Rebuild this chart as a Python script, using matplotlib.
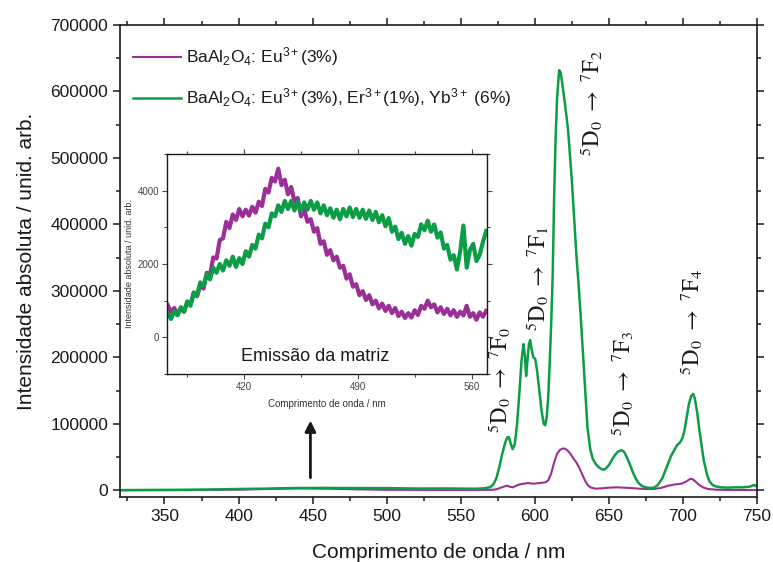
import numpy as np
import matplotlib
matplotlib.use("Agg")
import matplotlib.pyplot as plt
from matplotlib.ticker import MultipleLocator

plt.rcParams["font.family"] = ["Liberation Sans", "DejaVu Sans"]
plt.rcParams["mathtext.fontset"] = "custom"
plt.rcParams["mathtext.rm"] = "Liberation Sans"
plt.rcParams["mathtext.it"] = "Liberation Sans:italic"
plt.rcParams["mathtext.bf"] = "Liberation Sans:bold"

PURPLE = "#9a3097"
GREEN = "#0b9e46"
INK = "#1a1a1a"

# ---- Emission spectra (full range) ----
wl_eu = [320, 360, 400, 420, 440, 460, 480, 500, 540, 570, 574, 577, 579, 581, 583,
         585, 587, 589, 591, 593, 595, 597, 599, 601, 603, 605, 607, 609, 611, 613,
         615, 617, 619, 620.5, 622, 624, 626, 628, 630, 632, 634, 636, 638, 641, 645,
         650, 655, 660, 665, 670, 675, 680, 685, 690, 695, 699, 702, 704, 705.5, 707,
         709, 711, 714, 717, 722, 730, 750]
int_eu = [200, 300, 1000, 2000, 3000, 2500, 1500, 800, 600, 700, 1500, 4000, 5500, 7000, 5500,
          4500, 6500, 8500, 9500, 10000, 11000, 10500, 10000, 10500, 11000, 11500, 12000, 15000, 25000, 42000,
          55000, 61000, 63000, 62500, 60000, 55000, 48000, 42000, 34000, 24000, 14000, 7000, 4000, 2500, 3000,
          4000, 4500, 4000, 3500, 2500, 2000, 2000, 3500, 7000, 9000, 10000, 13000, 16000, 17500, 16000,
          12000, 8000, 4000, 2000, 1000, 500, 500]

wl_eu_er_yb = [320, 340, 360, 380, 400, 420, 440, 460, 480, 500, 520, 540, 560, 566, 570,
               572, 574, 576, 578, 580, 581.5, 582.5, 584, 585, 586.5, 588, 589.5, 591, 592.3, 593.2,
               594.1, 595, 596, 596.8, 597.8, 599, 600.2, 601.5, 603, 604.5, 606, 607, 608, 609, 610,
               611, 612, 613, 614, 615, 616.4, 617.5, 618.5, 619.5, 620.5, 621.5, 622.5, 623.5, 625, 626.5,
               628, 629.5, 631, 632.5, 634, 635.5, 637.4, 639, 641, 643, 645, 646.6, 648, 650, 652,
               654, 656, 658, 659, 660.5, 662, 664, 666, 668, 670, 672, 674, 676, 678,
               680.5, 683, 686, 689, 692, 694, 696, 698, 699.5, 701, 702.5, 704, 705.5, 706.9, 708,
               709.5, 711, 712.5, 714, 716.4, 718, 720, 722, 725.7, 730, 735, 740, 745, 748, 750]
int_eu_er_yb = [300, 600, 800, 1200, 2000, 2600, 3500, 3600, 3400, 3300, 2700, 2800, 2400, 3000, 5000,
                9000, 18000, 35000, 55000, 72000, 80000, 80000, 68000, 62000, 70000, 100000, 145000, 195000, 220000, 205000,
                172000, 195000, 220000, 226000, 212000, 200000, 198000, 180000, 150000, 120000, 100000, 98000, 110000, 140000, 190000,
                250000, 320000, 440000, 530000, 590000, 632000, 628000, 612000, 595000, 578000, 560000, 540000, 510000, 465000, 410000,
                355000, 310000, 260000, 205000, 150000, 95000, 62000, 48000, 40000, 35000, 32000, 31000, 33000, 38000, 46000,
                53000, 58000, 60000, 60000, 57000, 50000, 40000, 28000, 18000, 11000, 7000, 5000, 4000, 3500,
                4000, 8000, 18000, 35000, 52000, 60000, 68000, 72000, 78000, 90000, 110000, 130000, 142000, 145000, 138000,
                118000, 92000, 68000, 45000, 22000, 13000, 8000, 6000, 4500, 4000, 4500, 4500, 5500, 8000, 6000]

# ---- Host-matrix emission (inset) ----
wl_matrix = list(range(373, 570, 2))
mat_eu = [880, 690, 800, 620, 780, 700, 950, 900, 1220, 1120, 1420, 1330, 1760, 1700, 2180, 2150,
          2650, 2700, 3150, 2980, 3350, 3200, 3500, 3300, 3480, 3320, 3560, 3400, 3700, 3580, 4050,
          3950, 4350, 4250, 4600, 4150, 4300, 3900, 4100, 3700, 3800, 3300, 3480, 3150, 3220, 2880,
          2980, 2550, 2620, 2250, 2380, 2100, 2200, 1900, 1950, 1600, 1720, 1380, 1450, 1150, 1260,
          1020, 1150, 900, 1000, 790, 920, 720, 860, 660, 800, 580, 700, 530, 660, 540, 740, 610, 860,
          780, 1000, 820, 900, 680, 820, 640, 780, 600, 740, 560, 700, 600, 860, 560, 660, 480, 680,
          560, 720]
mat_eu_er_yb = [640, 500, 720, 600, 820, 700, 980, 860, 1220, 1150, 1500, 1400, 1720, 1580, 1900,
                1760, 2000, 1820, 2100, 1950, 2200, 1920, 2160, 2000, 2350, 2200, 2520, 2420, 2800, 2700,
                3100, 3000, 3380, 3300, 3600, 3420, 3720, 3500, 3720, 3460, 3700, 3450, 3680, 3480, 3720,
                3480, 3680, 3380, 3600, 3330, 3520, 3260, 3480, 3220, 3500, 3300, 3540, 3280, 3500, 3260,
                3480, 3230, 3460, 3200, 3420, 3140, 3330, 3030, 3250, 2880, 3020, 2680, 2850, 2550, 2760,
                2500, 2820, 2740, 3080, 2920, 3180, 2880, 3080, 2720, 2860, 2420, 2520, 2120, 2240, 1850,
                2350, 3050, 1900, 2380, 2550, 2080, 2250, 2600, 2900]

labels = [r"BaAl$_2$O$_4$: Eu$^{3+}$(3%)",
          r"BaAl$_2$O$_4$: Eu$^{3+}$(3%), Er$^{3+}$(1%), Yb$^{3+}$ (6%)"]

# Eu3+ transitions: (final level, x in nm, y in counts)
transitions = [("0", 576.5, 166000), ("1", 601.5, 318000), ("2", 638.5, 582000),
               ("3", 659.0, 161000), ("4", 706.0, 253000)]

fig = plt.figure(figsize=(7.73, 5.62), dpi=100)
ax = fig.add_axes([0.1553, 0.1157, 0.8241, 0.8398])

ax.plot(wl_eu, int_eu, color=PURPLE, lw=1.5, label=labels[0])
ax.plot(wl_eu_er_yb, int_eu_er_yb, color=GREEN, lw=1.8, label=labels[1])

ax.set_xlim(320, 750)
ax.set_ylim(-10000, 700000)
ax.xaxis.set_major_locator(MultipleLocator(50))
ax.xaxis.set_minor_locator(MultipleLocator(25))
ax.yaxis.set_major_locator(MultipleLocator(100000))
ax.yaxis.set_minor_locator(MultipleLocator(50000))
ax.tick_params(which="both", direction="out", width=1.1, colors=INK, labelsize=12.5)
ax.tick_params(which="major", length=5)
ax.tick_params(which="minor", length=3)
ax.tick_params(axis="x", which="both", top=True, labeltop=False)
ax.tick_params(axis="y", which="both", right=True, labelright=False)
for s in ax.spines.values():
    s.set_linewidth(1.2)
    s.set_color(INK)
ax.set_xlabel("Comprimento de onda / nm", fontsize=15, color=INK, labelpad=14)
ax.set_ylabel("Intensidade absoluta / unid. arb.", fontsize=15, color=INK, labelpad=10)

leg = ax.legend(loc="upper left", bbox_to_anchor=(-0.004, 0.99), frameon=False,
                fontsize=12.5, handlelength=2.75, handletextpad=0.3, labelspacing=1.05)
for t in leg.get_texts():
    t.set_color(INK)

for lvl, x, y in transitions:
    ax.text(x, y, r"$^{5}\mathrm{D}_{0}\ \rightarrow\ ^{7}\mathrm{F}_{" + lvl + r"}$",
            rotation=90, ha="center", va="center", fontsize=16.5, color=INK,
            math_fontfamily="stix")

ax.annotate("", xy=(448.5, 105000), xytext=(448.5, 19000),
            arrowprops=dict(arrowstyle="-|>", color=INK, lw=2, mutation_scale=16,
                            shrinkA=0, shrinkB=0))

# ---- Inset ----
ins = fig.add_axes([0.2160, 0.3345, 0.4140, 0.3915])
ins.plot(wl_matrix, mat_eu, color=PURPLE, lw=3.0)
ins.plot(wl_matrix, mat_eu_er_yb, color=GREEN, lw=3.0)
ins.set_xlim(372.5, 569.5)
ins.set_ylim(-1000, 5000)
ins.set_xticks([420, 490, 560])
ins.xaxis.set_minor_locator(MultipleLocator(35))
ins.yaxis.set_major_locator(MultipleLocator(2000))
ins.yaxis.set_minor_locator(MultipleLocator(1000))
ins.tick_params(which="both", direction="out", width=0.8, colors="#444444", labelsize=7,
                top=True, right=True, pad=2)
ins.tick_params(which="major", length=3.5)
ins.tick_params(which="minor", length=2)
for s in ins.spines.values():
    s.set_linewidth(1.0)
    s.set_color(INK)
ins.set_xlabel("Comprimento de onda / nm", fontsize=7, color="#333333", labelpad=5)
ins.set_ylabel("Intensidade absoluta / unid. arb.", fontsize=6.5, color="#333333", labelpad=3)
ins.text(0.4625, 0.08, "Emissão da matriz", transform=ins.transAxes,
         ha="center", va="center", fontsize=13, color=INK)

fig.savefig("out.png", dpi=100)
